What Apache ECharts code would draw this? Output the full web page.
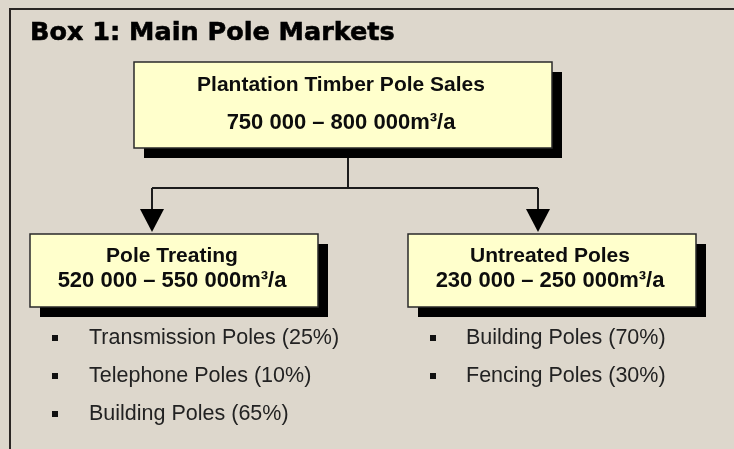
<!DOCTYPE html>
<html>
<head>
<meta charset="utf-8">
<title>Box 1: Main Pole Markets</title>
<script src="https://cdn.jsdelivr.net/npm/echarts@6/dist/echarts.min.js"></script>
<style>
  html, body { margin: 0; padding: 0; background: #ddd7cc; }
  #chart { width: 734px; height: 449px; }
</style>
</head>
<body>
<div id="chart"></div>
<script>
// Box 1 - data
var boxHeading = 'Box 1: Main Pole Markets';
var boxTitles = ['Plantation Timber Pole Sales', 'Pole Treating', 'Untreated Poles'];
var boxRanges = ['750 000 \u2013 800 000m\u00b3/a', '520 000 \u2013 550 000m\u00b3/a', '230 000 \u2013 250 000m\u00b3/a'];
var treatedUses = ['Transmission Poles', 'Telephone Poles', 'Building Poles'];
var treatedShares = [25, 10, 65];
var untreatedUses = ['Building Poles', 'Fencing Poles'];
var untreatedShares = [70, 30];

// layout (pixels)
var boxes = [
    {x: 134, y: 62, w: 418, h: 86, cx: 341, t1: 85, t2: 123},
    {x: 30, y: 234, w: 288, h: 73, cx: 172, t1: 256, t2: 281},
    {x: 408, y: 234, w: 288, h: 73, cx: 550, t1: 256, t2: 281}
];
var SHADOW = 10;
var INK = '#1c1c1c';

var chart = echarts.init(document.getElementById('chart'));
var els = [];

// outer frame
els.push({
    type: 'rect', silent: true,
    shape: {x: 10, y: 9, width: 800, height: 500},
    style: {fill: null, stroke: '#2a2624', lineWidth: 2}
});
els.push({
    type: 'text', silent: true, x: 30, y: 33,
    style: {text: boxHeading, fontFamily: 'DejaVu Sans', fontWeight: 'bold', fontSize: 25.5,
            fill: '#000', stroke: '#000', lineWidth: 0.6, verticalAlign: 'middle'}
});

// boxes
boxes.forEach(function (b, i) {
    els.push({
        type: 'rect', silent: true,
        shape: {x: b.x + SHADOW, y: b.y + SHADOW, width: b.w, height: b.h},
        style: {fill: '#000'}
    });
    els.push({
        type: 'rect', silent: true,
        shape: {x: b.x, y: b.y, width: b.w, height: b.h},
        style: {fill: '#ffffcc', stroke: '#2a2a2a', lineWidth: 1.5}
    });
    els.push({
        type: 'text', silent: true, x: b.cx, y: b.t1,
        style: {text: boxTitles[i], fontFamily: 'Liberation Sans', fontWeight: 'bold', fontSize: 21,
                fill: '#0d0d0d', align: 'center', verticalAlign: 'middle'}
    });
    els.push({
        type: 'text', silent: true, x: b.cx, y: b.t2,
        style: {text: boxRanges[i], fontFamily: 'Liberation Sans', fontWeight: 'bold', fontSize: 22,
                fill: '#0d0d0d', align: 'center', verticalAlign: 'middle'}
    });
});

// connectors
var lines = [
    [348, 158, 348, 188],
    [152, 188, 538, 188],
    [152, 188, 152, 212],
    [538, 188, 538, 212]
];
lines.forEach(function (l) {
    els.push({
        type: 'line', silent: true,
        shape: {x1: l[0], y1: l[1], x2: l[2], y2: l[3]},
        style: {stroke: INK, lineWidth: 2}
    });
});
[152, 538].forEach(function (ax) {
    els.push({
        type: 'polygon', silent: true,
        shape: {points: [[ax - 12, 209], [ax + 12, 209], [ax, 232]]},
        style: {fill: '#000'}
    });
});

// bullet lists
function bullets(uses, shares, bx, tx) {
    uses.forEach(function (u, i) {
        var y = 338 + i * 38;
        els.push({
            type: 'rect', silent: true,
            shape: {x: bx - 3, y: y - 3, width: 6, height: 6},
            style: {fill: '#111'}
        });
        els.push({
            type: 'text', silent: true, x: tx, y: y,
            style: {text: u + ' (' + shares[i] + '%)', fontFamily: 'Liberation Sans', fontSize: 21.5,
                    fill: '#222', verticalAlign: 'middle'}
        });
    });
}
bullets(treatedUses, treatedShares, 55, 89);
bullets(untreatedUses, untreatedShares, 433, 466);

chart.setOption({
    backgroundColor: '#ddd7cc',
    animation: false,
    graphic: {elements: els}
});
</script>
</body>
</html>
